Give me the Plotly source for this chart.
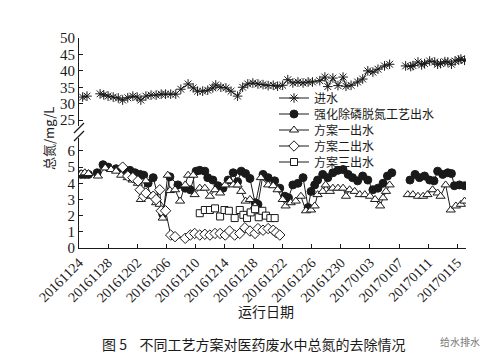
import plotly.graph_objects as go

# ---------------- data (x = days after 2016-11-24) ----------------
tick_labels = ["20161124", "20161128", "20161202", "20161206", "20161210", "20161214",
               "20161218", "20161222", "20161226", "20161230", "20170103", "20170107",
               "20170111", "20170115"]

inf_x = [0.5, 1.1, None, 2.9, 3.4, 4.0, 4.7, 5.4, 6.0, 6.7, 7.4, 8.0, 8.5, 9.2, 9.9, 10.6, 11.3,
         11.9, 12.6, 13.3, 14.0, 15.0, 15.7, 16.3, 17.0, 17.7, 18.4, 18.8, 19.5, 20.2, 20.9,
         21.8, 22.5, 23.2, 23.9, 24.6, 25.3, 26.0, 26.7, 27.3, 28.0, 28.7, 29.4, 30.1, 30.8,
         31.5, 32.1, 33.1, 33.8, 34.2, 34.9, 35.6, 36.3, 36.7, 37.4, 38.3, 39.0, 39.7, 40.4,
         41.1, 42.0, 42.7, None, 44.9, 45.6, 45.9, 46.6, 47.1, 47.5, 48.2, 48.9, 49.3, 49.7,
         50.3, 50.7, 51.2, 51.7, 52.2, 52.5, 53.0]
inf_y = [32.0, 32.3, None, 33.0, 32.7, 32.3, 32.0, 31.7, 31.1, 31.8, 32.3, 32.0, 31.1, 32.3, 32.6,
         32.6, 32.9, 32.9, 32.9, 32.9, 34.4, 36.0, 34.8, 33.8, 33.8, 34.1, 34.8, 35.7, 35.0,
         34.8, 33.8, 32.3, 35.0, 36.0, 36.3, 36.0, 35.8, 35.5, 35.6, 35.3, 35.6, 37.3, 36.3,
         36.6, 36.3, 36.6, 36.6, 37.0, 38.1, 35.2, 37.8, 35.5, 38.1, 35.3, 35.6, 36.6, 37.5,
         40.0, 39.6, 40.5, 41.5, 42.0, None, 41.5, 41.3, 41.6, 42.7, 41.8, 42.2, 43.0, 42.7,
         42.0, 42.2, 42.8, 42.7, 42.0, 43.0, 43.3, 43.6, 43.2]

enh_x = [0.3, 0.8, 1.3, None, 2.5, 3.3, 4.0, 5.1, 6.0, 7.0, 7.7, 8.4, 8.9, 9.5, 10.2, 11.5, 12.5,
         13.6, 14.6, 15.3, 16.1, 16.6, 17.3, 17.7, 18.4, 19.1, 19.8, 20.5, 21.2, 21.8, 22.3,
         22.9, 23.5, 24.2, 24.6, 25.3, 26.0, 26.9, 27.6, 28.3, 28.8, 29.4, 30.1, 30.8, 31.5,
         31.9, 32.4, 32.8, 33.5, 34.2, 34.9, 35.6, 36.3, 37.0, 37.6, 38.3, 39.0, 39.7, 40.4,
         41.1, 41.8, 42.4, 43.0, None, 45.5, 46.2, 46.8, 47.5, 48.2, 48.8, 49.3, 50.0, 50.7,
         51.2, 51.6, 52.3, 53.0]
enh_y = [4.55, 4.55, 4.55, None, 4.65, 5.15, 5.0, 4.9, 4.8, 4.8, 4.65, 4.55, 4.5, 4.0, 4.35,
         2.1, 4.4, 3.9, 3.7, 3.6, 4.75, 4.8, 4.75, 4.35, 4.2, 3.85, 3.7, 4.2, 4.65, 4.1, 4.75,
         4.6, 4.3, 2.8, 2.7, 4.55, 4.35, 4.15, 3.7, 3.2, 3.1, 3.9, 4.0, 4.35, 2.5, 3.5, 3.9,
         4.2, 4.55, 4.35, 4.65, 4.8, 4.85, 4.55, 4.35, 4.15, 4.45, 4.2, 3.6, 3.7, 4.0, 4.45,
         4.65, None, 4.2, 4.55, 4.35, 4.45, 4.2, 4.15, 4.75, 4.55, 4.65, 4.6, 3.85, 3.9, 3.85]

p1_x = [0.3, 0.8, 1.3, None, 2.6, 3.6, 4.4, 5.1, 5.8, 6.7, 7.4, 8.1, 8.5, 9.2, 9.9, 10.6, 11.1,
        11.5, 12.2, 12.5, 13.2, 13.9, 14.6, 15.0, 15.7, 15.9, 16.6, 17.3, 18.0, 18.7, 19.4,
        20.1, 20.7, 21.2, 21.8, 22.3, 22.9, 23.5, 24.2, 25.0, 26.0, 26.7, 27.3, 28.0, 28.4,
        29.1, 29.8, 30.5, 31.2, 31.9, 32.4, 32.8, 33.5, 33.9, 34.5, 34.9, 35.6, 36.3, 36.7,
        37.2, 37.9, 38.6, 39.3, 40.0, 40.7, 41.4, 41.8, 42.2, 42.7, None, 45.2, 45.9, 46.6,
        47.3, 47.9, 48.6, 49.3, 49.7, 50.4, 51.1, 51.8, 52.5, 53.0]
p1_y = [4.6, 4.65, 4.6, None, 4.45, 4.95, 4.85, 4.75, 4.5, 4.35, 4.2, 4.0, 3.0, 4.15, 3.2, 2.8,
        2.7, 1.85, 4.5, 3.55, 3.6, 2.9, 3.9, 4.5, 4.5, 3.3, 3.7, 3.7, 3.2, 3.6, 3.4, 3.9, 4.15,
        3.9, 3.9, 3.5, 2.9, 3.0, 2.6, 4.35, 3.9, 3.85, 3.6, 3.0, 2.6, 2.8, 2.9, 3.2, 2.3,
        2.35, 2.6, 3.3, 3.5, 3.9, 3.5, 3.7, 3.7, 3.7, 3.2, 3.6, 3.5, 3.3, 3.3, 3.2, 3.0, 2.6,
        3.1, 3.5, 3.9, None, 3.3, 3.3, 3.2, 3.2, 3.3, 3.6, 3.4, 3.2, 3.9, 2.35, 2.6, 2.7, 2.9]

p2_x = [6.0, 6.7, 7.4, 8.1, 8.4, 8.9, 9.2, 10.2, 10.6, 11.1, 11.3, 11.9, 12.6, 13.2, 14.6, 15.3,
        15.9, 16.6, 17.3, 18.0, 18.7, 19.4, 20.1, 20.7, 21.4, 22.1, 22.8, 23.5, 24.2, 24.6,
        25.3, 26.0, 26.7, 27.1, 27.6]
p2_y = [5.0, 4.45, 4.35, 4.15, 3.6, 3.2, 3.4, 3.2, 3.0, 3.6, 2.3, 2.3, 0.8, 0.7, 0.6, 0.8, 0.9,
        0.8, 0.85, 0.8, 0.9, 0.9, 0.8, 1.05, 0.8, 0.9, 1.25, 1.05, 0.9, 1.2, 1.1, 1.2, 1.1,
        0.95, 0.8]

p3_x = [16.6, 17.3, 18.0, 18.7, 19.4, 20.0, 20.6, 21.4, 22.1, 22.6, 23.1, 23.6, 24.2, 24.7,
        25.2, 25.7, 26.3, 26.9]
p3_y = [2.15, 2.35, 2.35, 2.45, 1.95, 2.35, 2.3, 1.85, 2.35, 2.05, 1.85, 2.2, 2.4, 1.9, 2.3,
        2.0, 1.85, 1.85]

series_names = ["进水", "强化除磷脱氮工艺出水", "方案一出水", "方案二出水", "方案三出水"]

# ---------------- figure ----------------
SERIF = "Liberation Serif"
CJK = "Noto Sans CJK SC"
INK = "#1a1a1a"

W, H = 498, 358
PL, PR, PT, PB = 71, 458, 30, 240          # plot area in pixels
L, T, R, B = PL, PT, W - PR, H - PB
pw, ph = PR - PL, PB - PT


def px(xp):
    return (xp - PL) / pw


def py(yp):
    return (PB - yp) / ph


legend_ids = ["legend", "legend2", "legend3", "legend4", "legend5"]
line = dict(color=INK, width=1)
specs = [
    (inf_x, inf_y, "y2", dict(symbol="asterisk-open", size=8, color=INK, line=dict(color=INK, width=1))),
    (enh_x, enh_y, "y", dict(symbol="circle", size=8, color=INK, line=dict(color=INK, width=1))),
    (p1_x, p1_y, "y", dict(symbol="triangle-up", size=8, color="white", line=dict(color=INK, width=1))),
    (p2_x, p2_y, "y", dict(symbol="diamond", size=8, color="white", line=dict(color=INK, width=1))),
    (p3_x, p3_y, "y", dict(symbol="square", size=7, color="white", line=dict(color=INK, width=1))),
]

fig = go.Figure()
for i, (xs, ys, yax, mk) in enumerate(specs):
    fig.add_trace(go.Scatter(x=xs, y=ys, name=series_names[i], yaxis=yax, mode="lines+markers",
                             line=line, marker=mk, connectgaps=False, legend=legend_ids[i]))

legend_rows = [90, 106, 122, 138, 154]
legend_layout = {}
for i, lid in enumerate(legend_ids):
    legend_layout[lid] = dict(x=px(266), y=py(legend_rows[i]), xanchor="left", yanchor="middle",
                              bgcolor="rgba(0,0,0,0)", borderwidth=0, itemwidth=30,
                              font=dict(family=CJK, size=12, color=INK))

fig.update_layout(
    width=W, height=H,
    template="none",
    margin=dict(l=L, r=R, t=T, b=B, autoexpand=False),
    paper_bgcolor="white", plot_bgcolor="white",
    font=dict(family=SERIF, color=INK, size=13),
    showlegend=True,
    xaxis=dict(range=[0, 53.2], tickvals=[4 * i for i in range(len(tick_labels))],
               ticktext=tick_labels, tickangle=-45, ticks="inside", ticklen=4,
               tickcolor=INK, showline=True, linecolor=INK, linewidth=1, automargin=False,
               showgrid=False, zeroline=False, anchor="y",
               tickfont=dict(family=SERIF, size=14, color=INK)),
    yaxis=dict(domain=[0, py(130)], range=[0, 6.8], tickvals=[0, 1, 2, 3, 4, 5, 6],
               ticks="inside", ticklen=4, tickcolor=INK, showline=True, linecolor=INK,
               linewidth=1, showgrid=False, zeroline=False, automargin=False,
               tickfont=dict(family=SERIF, size=15, color=INK)),
    yaxis2=dict(domain=[py(118), 1], range=[23.2, 50], tickvals=[25, 30, 35, 40, 45, 50],
                ticks="inside", ticklen=4, tickcolor=INK, showline=True, linecolor=INK,
                linewidth=1, showgrid=False, zeroline=False, anchor="x", automargin=False,
                tickfont=dict(family=SERIF, size=15, color=INK)),
    **legend_layout,
)

# axis-break marks
for y0 in (121, 129):
    fig.add_shape(type="line", xref="paper", yref="paper",
                  x0=px(66), y0=py(y0 + 4), x1=px(76), y1=py(y0 - 6),
                  line=dict(color=INK, width=1.3))

ann = dict(xref="paper", yref="paper", showarrow=False, xanchor="center", yanchor="middle")
fig.add_annotation(text="总氮/mg/L", x=px(40), y=py(131), textangle=-90,
                   font=dict(family=CJK, size=13, color=INK), **ann)
fig.add_annotation(text="运行日期", x=px(258), y=py(303),
                   font=dict(family=CJK, size=14, color=INK), **ann)
fig.add_annotation(text="图 5    不同工艺方案对医药废水中总氮的去除情况", x=px(245), y=py(336),
                   font=dict(family=CJK, size=14, color=INK), **ann)
fig.add_annotation(text="给水排水", x=px(452), y=py(333),
                   font=dict(family=CJK, size=10, color="#777"), **ann)

fig.write_html("out.html")
